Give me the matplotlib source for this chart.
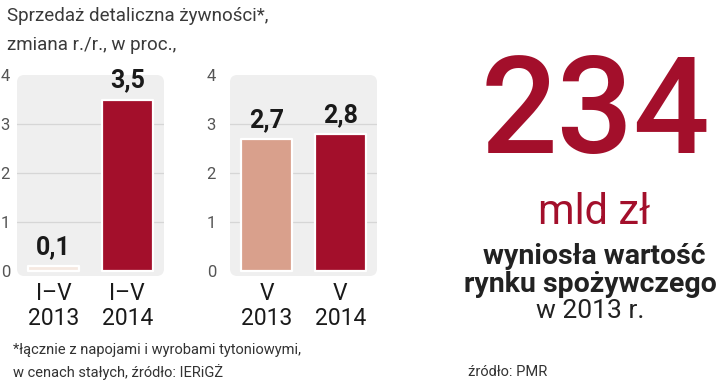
import matplotlib
matplotlib.use("Agg")
import matplotlib.pyplot as plt
from matplotlib.patches import FancyBboxPatch

# ---- data ----
left_cats = ["I–V\n2013", "I–V\n2014"]
left_vals = [0.1, 3.5]
left_labels = ["0,1", "3,5"]
right_cats = ["V\n2013", "V\n2014"]
right_vals = [2.7, 2.8]
right_labels = ["2,7", "2,8"]
yticks = [0, 1, 2, 3, 4]

DARK = "#A30F2B"
LIGHT = "#D9A08C"
PALE = "#F6E9E1"
COND = ["Roboto", "DejaVu Sans"]

fig = plt.figure(figsize=(7.2, 3.87), dpi=100)
W, H = 720, 387

def px_axes(x0, x1, ytop, ybot):
    return fig.add_axes([x0 / W, 1 - ybot / H, (x1 - x0) / W, (ybot - ytop) / H])

def panel(ax, cats, vals, labels, colors, pad):
    ax.set_xlim(-0.5, 1.5)
    ax.set_ylim(-0.1, 4.0)
    bg = FancyBboxPatch((0.0, 0.0), 1.0, 1.0, boxstyle="round,pad=0,rounding_size=0.05",
                        transform=ax.transAxes, facecolor="#EFEFEF", edgecolor="none",
                        zorder=0, clip_on=False, mutation_aspect=147 / 200)
    ax.add_patch(bg)
    for y in yticks[1:4]:
        ax.axhline(y, color="#D6D6D6", lw=0.9, zorder=1)
    ax.bar(range(len(vals)), vals, width=0.7, color=colors, edgecolor="white",
           linewidth=1.6, zorder=2, joinstyle="round")
    for i, (v, t) in enumerate(zip(vals, labels)):
        ax.text(i, v + 0.14, t, ha="center", va="bottom", fontsize=18,
                fontweight="bold", family=COND, color="#1a1a1a", zorder=3)
    ax.set_yticks(yticks)
    ax.set_yticklabels([str(t) for t in yticks], fontsize=12, color="#555555",
                       family=COND)
    ax.set_xticks(range(len(cats)))
    ax.set_xticklabels(cats, fontsize=16.5, color="#1a1a1a", family=COND, linespacing=1.15)
    ax.tick_params(length=0, axis="y", pad=pad)
    ax.tick_params(length=0, axis="x", pad=4)
    for s in ax.spines.values():
        s.set_visible(False)
    ax.patch.set_visible(False)

ax1 = px_axes(17, 164, 75, 276)
panel(ax1, left_cats, left_vals, left_labels, [PALE, DARK], 5)
ax2 = px_axes(230, 377, 75, 276)
panel(ax2, right_cats, right_vals, right_labels, [LIGHT, DARK], 10)

fig.text(7 / W, 1 - 16 / H, "Sprzedaż detaliczna żywności*,", fontsize=13.5, family=COND,
         color="#3a3a3a", va="center", ha="left")
fig.text(7 / W, 1 - 45 / H, "zmiana r./r., w proc.,", fontsize=13.5, family=COND,
         color="#3a3a3a", va="center", ha="left")

fig.text(596 / W, 1 - 116 / H, "234", fontsize=97, family=["Roboto", "DejaVu Sans"],
         color=DARK, va="center", ha="center", fontweight="medium")
fig.text(594 / W, 1 - 212 / H, "mld zł", fontsize=30, family=COND,
         color=DARK, va="center", ha="center")
fig.text(594 / W, 1 - 257 / H, "wyniosła wartość", fontsize=20.5, family=COND,
         fontweight="bold", color="#222222", va="center", ha="center")
fig.text(590 / W, 1 - 284 / H, "rynku spożywczego", fontsize=20.5, family=COND,
         fontweight="bold", color="#222222", va="center", ha="center")
fig.text(590 / W, 1 - 311 / H, "w 2013 r.", fontsize=19, family=COND,
         color="#222222", va="center", ha="center")

fig.text(13 / W, 1 - 350 / H, "*łącznie z napojami i wyrobami tytoniowymi,", fontsize=10.5,
         family=COND, color="#333333", va="center", ha="left")
fig.text(13 / W, 1 - 372 / H, "w cenach stałych, źródło: IERiGŻ", fontsize=10.5,
         family=COND, color="#333333", va="center", ha="left")
fig.text(468 / W, 1 - 372 / H, "źródło: PMR", fontsize=10.5,
         family=COND, color="#333333", va="center", ha="left")

fig.savefig("out.png", dpi=100)
